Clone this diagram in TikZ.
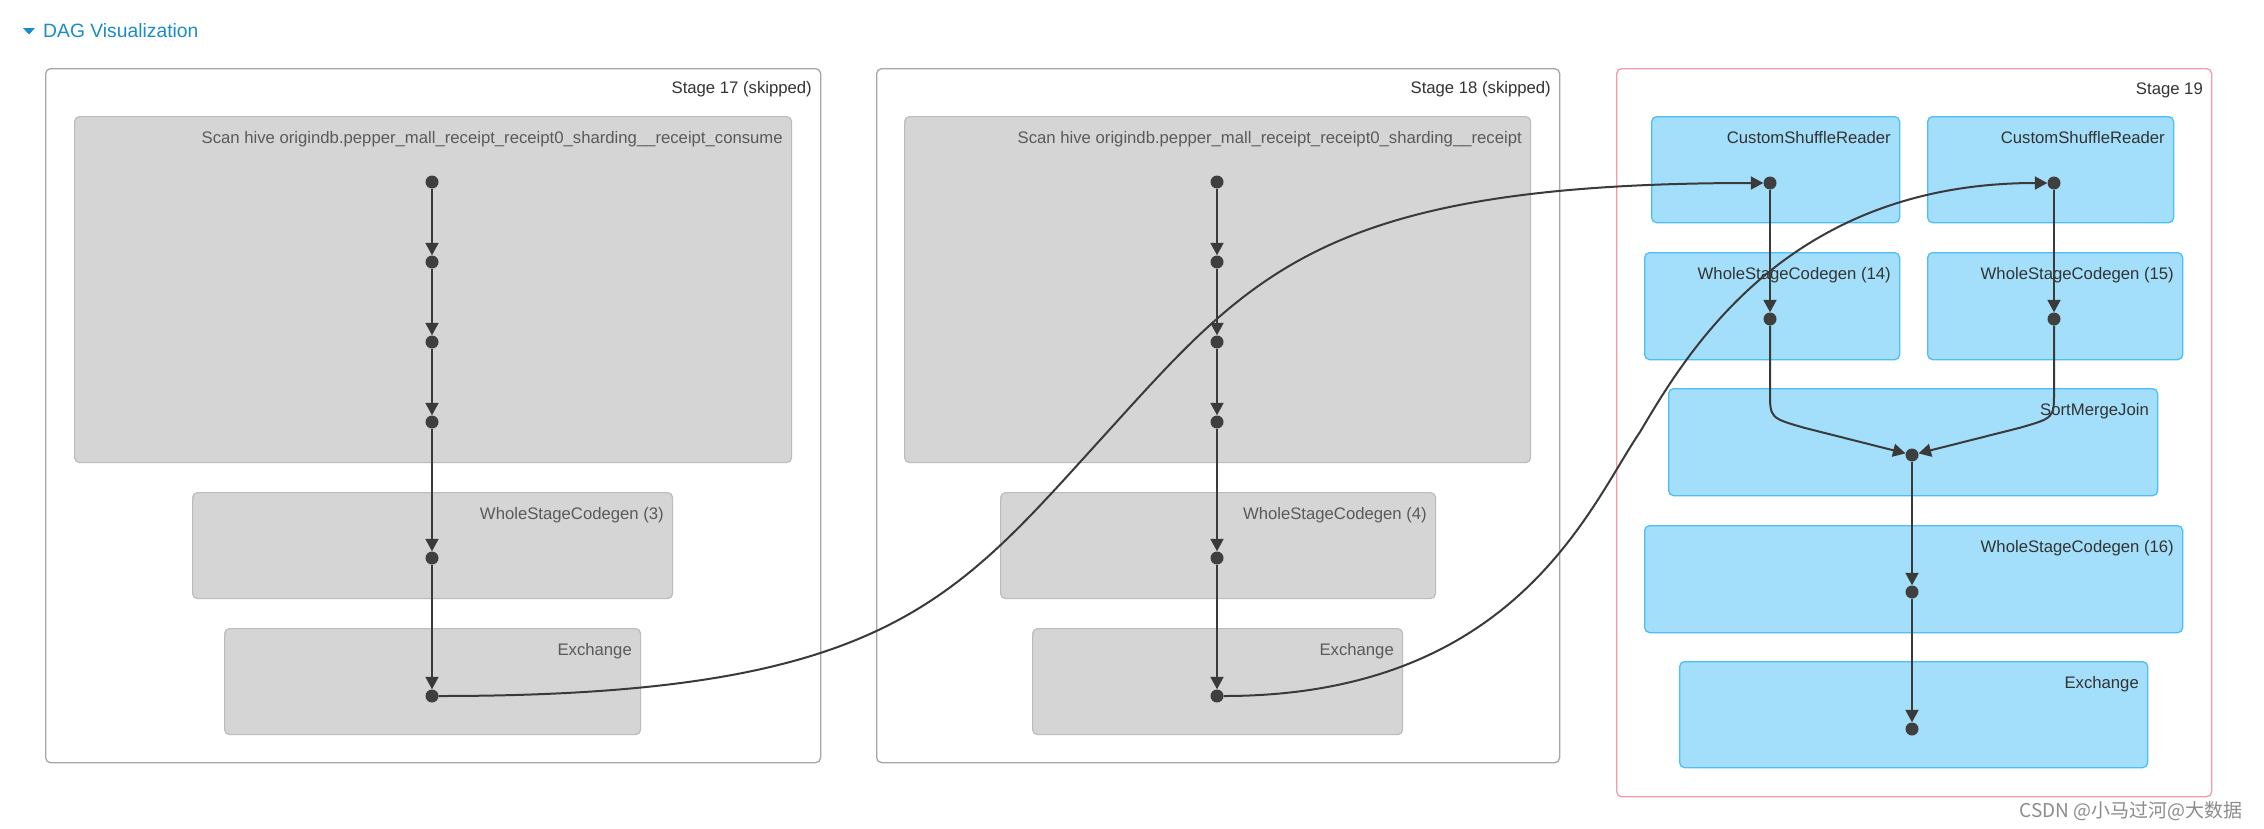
\documentclass[tikz,border=0pt]{standalone}
\usepackage{fontspec}
\setmainfont{Liberation Sans}
\newfontfamily\cjk{Noto Sans CJK SC}
\usetikzlibrary{arrows.meta}
\definecolor{graybg}{HTML}{D5D5D5}
\definecolor{grayln}{HTML}{BCBCBC}
\definecolor{stageln}{HTML}{A6A6A6}
\definecolor{redln}{HTML}{F59AAA}
\definecolor{bluebg}{HTML}{A3DFFA}
\definecolor{blueln}{HTML}{4DBFF4}
\definecolor{dotc}{HTML}{3F3F3F}
\definecolor{edgec}{HTML}{3A3A3A}
\definecolor{titlec}{HTML}{1A8CCB}
\definecolor{graytxt}{HTML}{5A5A5A}
\definecolor{darktxt}{HTML}{333333}
\definecolor{credit}{HTML}{8C8C8C}
\tikzset{
  stagebox/.style={draw=stageln, line width=1.3pt, rounded corners=5pt, fill=white, inner sep=0pt, anchor=north west},
  redstage/.style={stagebox, draw=redln},
  gbox/.style={draw=grayln, line width=1.2pt, rounded corners=5pt, fill=graybg, inner sep=0pt, anchor=north west},
  bbox/.style={draw=blueln, line width=1.3pt, rounded corners=5pt, fill=bluebg, inner sep=0pt, anchor=north west},
  lbl/.style={anchor=base east, inner sep=0pt, font=\fontsize{16.7}{20}\selectfont},
  glbl/.style={lbl, text=graytxt},
  blbl/.style={lbl, text=darktxt},
  dotn/.style={circle, fill=dotc, inner sep=0pt, minimum size=13pt},
  edge/.style={draw=edgec, line width=2pt, -{Triangle[width=13pt,length=12.5pt]}},
}
\begin{document}
\begin{tikzpicture}[x=1pt,y=-1pt]
\path[fill=white, use as bounding box] (0,0) rectangle (2264,828);

% title
\fill[titlec] (23,28) -- (35,28) -- (29,34.5) -- cycle;
\node[anchor=base west, inner sep=0pt, text=titlec, font=\fontsize{19.3}{22}\selectfont] (title) at (43,37) {DAG Visualization};

% stages
\node[stagebox, minimum width=775pt, minimum height=694pt] (st17) at (45,68) {};
\node[stagebox, minimum width=683pt, minimum height=694pt] (st18) at (876,68) {};
\node[redstage, minimum width=595pt, minimum height=728pt] (st19) at (1616,68) {};
\node[blbl] (st17l) at (812,93) {Stage 17 (skipped)};
\node[blbl] (st18l) at (1551,93) {Stage 18 (skipped)};
\node[blbl] (st19l) at (2203,94) {Stage 19};

% stage 17 boxes
\node[gbox, minimum width=717pt, minimum height=346pt] (scan17) at (74,116) {};
\node[gbox, minimum width=480pt, minimum height=106pt] (wsc3) at (192,492) {};
\node[gbox, minimum width=416pt, minimum height=106pt] (ex17) at (224,628) {};
\node[glbl] (scan17l) at (783,143) {Scan hive origindb.pepper\_mall\_receipt\_receipt0\_sharding\_\_receipt\_consume};
\node[glbl] (wsc3l) at (664,519) {WholeStageCodegen (3)};
\node[glbl] (ex17l) at (632,655) {Exchange};

% stage 18 boxes
\node[gbox, minimum width=626pt, minimum height=346pt] (scan18) at (904,116) {};
\node[gbox, minimum width=435pt, minimum height=106pt] (wsc4) at (1000,492) {};
\node[gbox, minimum width=370pt, minimum height=106pt] (ex18) at (1032,628) {};
\node[glbl] (scan18l) at (1522,143) {Scan hive origindb.pepper\_mall\_receipt\_receipt0\_sharding\_\_receipt};
\node[glbl] (wsc4l) at (1427,519) {WholeStageCodegen (4)};
\node[glbl] (ex18l) at (1394,655) {Exchange};

% stage 19 boxes
\node[bbox, minimum width=248pt, minimum height=106pt] (csr1) at (1651,116) {};
\node[bbox, minimum width=246pt, minimum height=106pt] (csr2) at (1927,116) {};
\node[bbox, minimum width=255pt, minimum height=107pt] (wsc14) at (1644,252) {};
\node[bbox, minimum width=255pt, minimum height=107pt] (wsc15) at (1927,252) {};
\node[bbox, minimum width=489pt, minimum height=107pt] (smj) at (1668,388) {};
\node[bbox, minimum width=538pt, minimum height=107pt] (wsc16) at (1644,525) {};
\node[bbox, minimum width=468pt, minimum height=106pt] (ex19) at (1679,661) {};
\node[blbl] (csr1l) at (1891,143) {CustomShuffleReader};
\node[blbl] (csr2l) at (2165,143) {CustomShuffleReader};
\node[blbl] (wsc14l) at (1891,279) {WholeStageCodegen (14)};
\node[blbl] (wsc15l) at (2174,279) {WholeStageCodegen (15)};
\node[blbl] (smjl) at (2149,415) {SortMergeJoin};
\node[blbl] (wsc16l) at (2174,552) {WholeStageCodegen (16)};
\node[blbl] (ex19l) at (2139,688) {Exchange};

% dots stage 17
\node[dotn] (a1) at (432,182) {};
\node[dotn] (a2) at (432,262) {};
\node[dotn] (a3) at (432,342) {};
\node[dotn] (a4) at (432,422) {};
\node[dotn] (a5) at (432,558) {};
\node[dotn] (a6) at (432,696) {};
% dots stage 18
\node[dotn] (b1) at (1217,182) {};
\node[dotn] (b2) at (1217,262) {};
\node[dotn] (b3) at (1217,342) {};
\node[dotn] (b4) at (1217,422) {};
\node[dotn] (b5) at (1217,558) {};
\node[dotn] (b6) at (1217,696) {};
% dots stage 19
\node[dotn] (c1) at (1770,183) {};
\node[dotn] (c2) at (2054,183) {};
\node[dotn] (c3) at (1770,319) {};
\node[dotn] (c4) at (2054,319) {};
\node[dotn] (c5) at (1912,455) {};
\node[dotn] (c6) at (1912,592) {};
\node[dotn] (c7) at (1912,729) {};

% straight edges
\foreach \u/\v in {a1/a2,a2/a3,a3/a4,a4/a5,a5/a6,b1/b2,b2/b3,b3/b4,b4/b5,b5/b6,c1/c3,c2/c4,c5/c6,c6/c7}
  \draw[edge] (\u) -- (\v);

% merge edges
\coordinate (m1a) at (1770,392);
\coordinate (m1b) at (1805,428);
\coordinate (m2a) at (2054,392);
\coordinate (m2b) at (2019,428);
\draw[edge] (c3) -- (m1a) .. controls (1770,418) .. (m1b) -- (c5);
\draw[edge] (c4) -- (m2a) .. controls (2054,418) .. (m2b) -- (c5);

% cross-stage edges
\coordinate (k1) at (1101,439);
\coordinate (k2) at (1640,432);
\draw[edge] (a6) .. controls (882,696) and (951,604) .. (k1) .. controls (1251,274) and (1320,183) .. (c1);
\draw[edge] (b6) .. controls (1517,696) and (1590,505) .. (k2) .. controls (1690,347) and (1790,183) .. (c2);

% credit
\node[anchor=base east, inner sep=0pt, text=credit, font=\cjk\fontsize{19}{21}\selectfont] (cred) at (2243,817) {CSDN @小马过河@大数据};
\end{tikzpicture}
\end{document}
